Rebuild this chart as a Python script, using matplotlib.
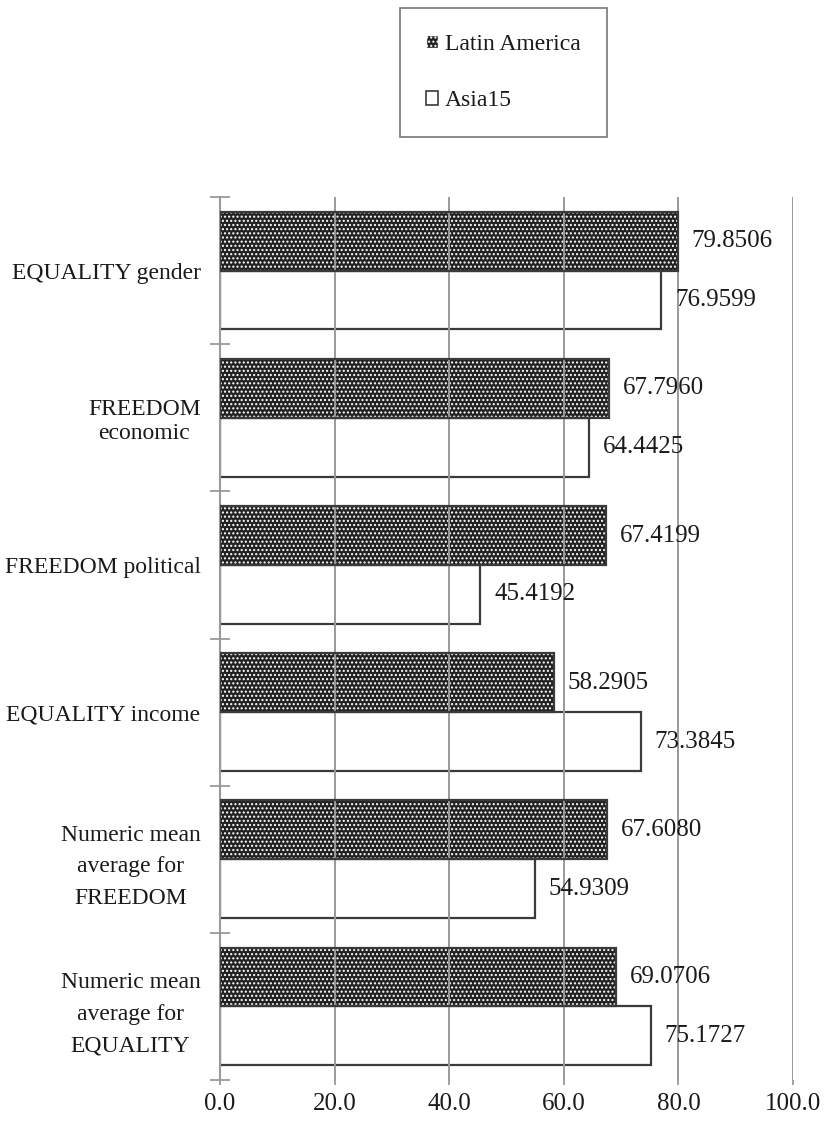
import numpy as np
import matplotlib.pyplot as plt
from matplotlib.patches import Patch
from matplotlib.ticker import FixedLocator

plt.rcParams['font.family'] = ['Liberation Serif', 'DejaVu Serif']
plt.rcParams['hatch.linewidth'] = 1.0

categories = [
    "EQUALITY gender",
    "FREEDOM\neconomic",
    "FREEDOM political",
    "EQUALITY income",
    "Numeric mean\naverage for\nFREEDOM",
    "Numeric mean\naverage for\nEQUALITY",
]
latin_america = [79.8506, 67.7960, 67.4199, 58.2905, 67.6080, 69.0706]
asia15 = [76.9599, 64.4425, 45.4192, 73.3845, 54.9309, 75.1727]
x_ticks = [0, 20, 40, 60, 80, 100]

TEXT = "#1a1a1a"
GRID = "#9a9a9a"
EDGE = "#3a3a3a"
DOTS = "#222222"
FS = 17
FS_NUM = 18


def main():
    fig = plt.figure(figsize=(8.27, 11.22), dpi=100)
    ax = fig.add_axes([0.266, 0.0374, 0.693, 0.787])

    y = np.arange(len(categories))
    h = 0.4

    # dotted fill for Latin America, then a plain outline on top
    ax.barh(y - h / 2, latin_america, height=h, color=DOTS,
            edgecolor="white", hatch="....", linewidth=0, zorder=1)
    ax.barh(y - h / 2, latin_america, height=h, facecolor="none",
            edgecolor=EDGE, linewidth=1.6, zorder=3)
    ax.barh(y + h / 2, asia15, height=h, color="white",
            edgecolor=EDGE, linewidth=1.6, zorder=1)

    for yi, v in zip(y - h / 2, latin_america):
        ax.annotate(f"{v:.4f}", (v, yi), xytext=(10, 0),
                    textcoords="offset points", va="center", ha="left",
                    fontsize=FS_NUM, color=TEXT, zorder=4)
    for yi, v in zip(y + h / 2, asia15):
        ax.annotate(f"{v:.4f}", (v, yi), xytext=(10, 0),
                    textcoords="offset points", va="center", ha="left",
                    fontsize=FS_NUM, color=TEXT, zorder=4)

    ax.set_xlim(0, 100)
    ax.set_ylim(len(categories) - 0.5, -0.5)
    ax.set_xticks(x_ticks)
    ax.set_xticklabels([f"{t:.1f}" for t in x_ticks], fontsize=FS_NUM, color=TEXT)
    ax.set_yticks(y)
    labels = ax.set_yticklabels(categories, fontsize=FS, color=TEXT,
                                multialignment="center")
    for lab in labels:
        n_lines = lab.get_text().count("\n") + 1
        lab.set_linespacing(1.65 if n_lines > 2 else 1.15)
    ax.yaxis.set_minor_locator(FixedLocator(np.arange(-0.5, len(categories), 1.0)))

    ax.tick_params(axis="y", which="major", length=0, pad=14)
    ax.tick_params(axis="y", which="minor", length=14, direction="inout",
                   color=GRID, width=1.3)
    ax.tick_params(axis="x", length=3.6, color=GRID, width=1.3, pad=6)

    ax.grid(axis="x", color=GRID, linewidth=1.4, zorder=2)
    ax.set_axisbelow(False)

    for side in ["top", "right", "bottom"]:
        ax.spines[side].set_visible(False)
    ax.spines["left"].set_color(GRID)
    ax.spines["left"].set_linewidth(1.5)

    handles = [
        Patch(facecolor=DOTS, edgecolor="white", hatch="...."),
        Patch(facecolor="white", edgecolor=EDGE, linewidth=1.2),
    ]
    leg = fig.legend(handles, ["Latin America", "Asia15"],
                     loc="upper left", bbox_to_anchor=(400 / 827, 1 - 8 / 1122),
                     borderaxespad=0, fontsize=FS, frameon=True, fancybox=False,
                     handlelength=0.5, handleheight=0.5, handletextpad=0.3,
                     labelspacing=1.5, borderpad=1.1)
    leg.get_frame().set_edgecolor("#555555")
    leg.get_frame().set_linewidth(1.2)
    for t in leg.get_texts():
        t.set_color(TEXT)

    fig.savefig("out.png", dpi=100)


if __name__ == "__main__":
    main()
